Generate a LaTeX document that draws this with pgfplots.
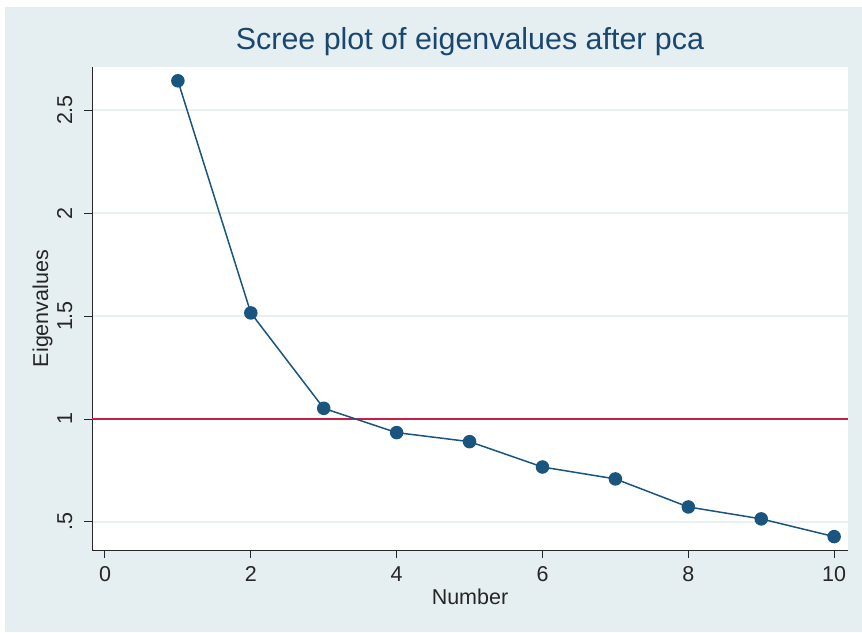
\documentclass[border=0pt]{standalone}
\usepackage{fontspec}
\setmainfont{Liberation Sans}
\usepackage{pgfplots}
\pgfplotsset{compat=1.18}

\definecolor{statabg}{RGB}{229,238,240}
\definecolor{statanavy}{RGB}{26,85,128}
\definecolor{statatitle}{RGB}{26,71,111}
\definecolor{statared}{RGB}{200,30,70}
\definecolor{gridc}{RGB}{232,240,242}

\begin{document}
\begin{tikzpicture}
% page background and Stata-style outer region
\fill[white] (0,0) rectangle (862pt,632pt);
\fill[statabg] (5pt,0) rectangle (862pt,625pt);

\begin{axis}[
    at={(92pt,82pt)}, anchor=south west,
    scale only axis,
    width=756pt, height=483pt,
    xmin=-0.178, xmax=10.19,
    ymin=0.364, ymax=2.709,
    axis lines*=left,
    axis line style={black!85, line width=1pt},
    axis background/.style={fill=white},
    xtick={0,2,4,6,8,10},
    ytick={0.5,1,1.5,2,2.5},
    yticklabels={.5,1,1.5,2,2.5},
    tick align=outside,
    major tick length=8pt,
    tick style={black!85, line width=1pt},
    ymajorgrids,
    grid style={gridc, line width=1.5pt},
    /pgf/number format/assume math mode=true,
    tick label style={font=\fontsize{21.5}{25}\selectfont, text=black!85},
    yticklabel style={rotate=90, anchor=base, yshift=12pt},
    xticklabel style={anchor=base, yshift=-23pt},
    xlabel={Number},
    ylabel={Eigenvalues},
    label style={font=\fontsize{21.5}{25}\selectfont, text=black!85},
    xlabel style={at={(axis description cs:0.5,0)}, anchor=base, yshift=-54pt},
    ylabel style={at={(axis description cs:0,0.5)}, anchor=base, yshift=44pt},
    title={Scree plot of eigenvalues after pca},
    title style={font=\fontsize{30.4}{34}\selectfont, text=statatitle, at={(axis description cs:0.5,1)}, anchor=base, yshift=11pt},
    clip=false,
]
% reference line at eigenvalue = 1
\addplot[statared, line width=1.6pt] coordinates {(-0.178,1) (10.19,1)};

% eigenvalues
\addplot[statanavy, line width=1.5pt, mark=*, mark size=6pt, mark options={fill=statanavy, draw=statanavy}]
coordinates {
(1,2.642) (2,1.515) (3,1.052) (4,0.934) (5,0.890)
(6,0.767) (7,0.709) (8,0.573) (9,0.515) (10,0.429)
};
\end{axis}
\end{tikzpicture}
\end{document}
